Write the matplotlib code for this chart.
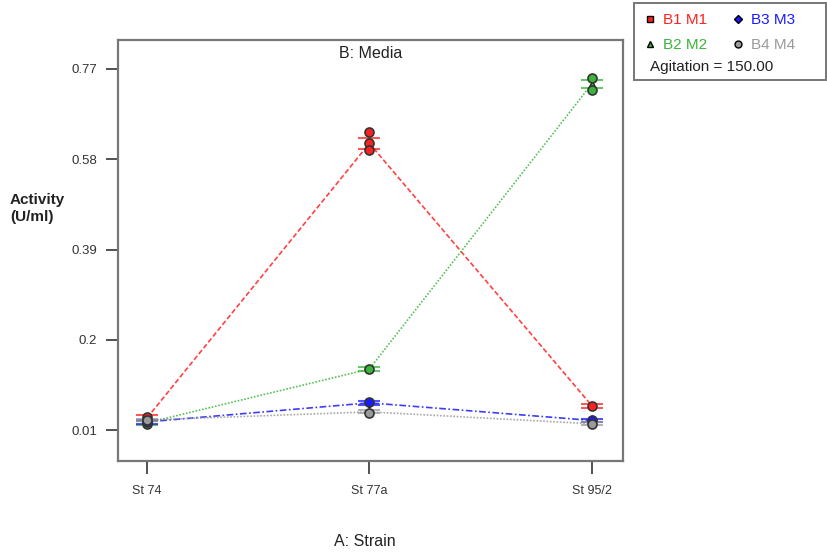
import numpy as np
import matplotlib.pyplot as plt
from matplotlib.lines import Line2D

plt.rcParams['font.family'] = ['Liberation Sans', 'DejaVu Sans']

# Interaction data: activity (U/ml) for each strain under four media
strains = ['St 74', 'St 77a', 'St 95/2']
b1_m1 = [0.036, 0.613, 0.062]
b2_m2 = [0.026, 0.139, 0.738]
b3_m3 = [0.028, 0.068, 0.031]
b4_m4 = [0.032, 0.049, 0.024]

# LSD half-widths for each mean
b1_lsd = [0.006, 0.011, 0.004]
b2_lsd = [0.004, 0.004, 0.009]
b3_lsd = [0.004, 0.004, 0.004]
b4_lsd = [0.003, 0.003, 0.003]

# Design points (replicate runs)
b1_runs_x = [0, 1, 1, 1, 2]
b1_runs_y = [0.038, 0.637, 0.613, 0.598, 0.062]
b2_runs_x = [0, 1, 2, 2]
b2_runs_y = [0.024, 0.139, 0.751, 0.726]
b3_runs_x = [0, 1, 2]
b3_runs_y = [0.028, 0.069, 0.031]
b4_runs_x = [0, 1, 2]
b4_runs_y = [0.032, 0.047, 0.023]

yticks = [0.01, 0.2, 0.39, 0.58, 0.77]
ytick_labels = ['0.01', '0.2', '0.39', '0.58', '0.77']

fig = plt.figure(figsize=(8.27, 5.56), dpi=100)
ax = fig.add_axes([0.1427, 0.171, 0.6106, 0.757])

x = np.arange(len(strains))
series = [
    (b1_m1, b1_lsd, b1_runs_x, b1_runs_y, '#ff2020', (0, (3, 1.5)), 's'),
    (b2_m2, b2_lsd, b2_runs_x, b2_runs_y, '#3cb43c', (0, (1, 1)), '^'),
    (b3_m3, b3_lsd, b3_runs_x, b3_runs_y, '#1a1aff', (0, (4, 1.5, 1, 1.5)), 'D'),
    (b4_m4, b4_lsd, b4_runs_x, b4_runs_y, '#9a9a9a', (0, (1, 1)), 'o'),
]

for means, lsd, rx, ry, col, ls, mk in series:
    ax.plot(x, means, color=col, lw=1.2, ls=ls, alpha=0.85, zorder=2)
    ax.errorbar(x, means, yerr=lsd, fmt='none', ecolor=col, elinewidth=1.2,
                capsize=8, capthick=1.5, alpha=0.75, zorder=3)
    ax.scatter(x, means, marker=mk, s=22, color=col, edgecolor='black',
               linewidth=0.8, zorder=4)
    ax.scatter(rx, ry, marker='o', s=42, color=col, edgecolor='#333333',
               linewidth=1.2, zorder=5)

ax.set_xlim(-0.13, 2.14)
ax.set_ylim(-0.054, 0.83)
ax.set_xticks(x)
ax.set_xticklabels(strains, fontsize=9)
ax.set_yticks(yticks)
ax.set_yticklabels(ytick_labels, fontsize=9.5)
ax.tick_params(axis='both', length=9, width=1.2, color='#333333', labelcolor='#333333')
ax.tick_params(axis='x', pad=8)
ax.tick_params(axis='y', pad=6)

for side in ['left', 'bottom', 'right', 'top']:
    ax.spines[side].set_color('#777777')
    ax.spines[side].set_linewidth(1.6)

ax.text(0.5, 0.985, 'B: Media', transform=ax.transAxes, ha='center', va='top',
        fontsize=11.5, color='#222222')
fig.text(0.441, 0.012, 'A: Strain', ha='center', va='bottom', fontsize=11.5,
         color='#222222')
fig.text(0.012, 0.625, 'Activity\n(U/ml)', ha='left', va='center', fontsize=11,
         fontweight='bold', color='#222222', linespacing=1.2)

# Legend box in the top right corner
handles = [
    Line2D([], [], ls='none', marker='s', color='#ff2020', mec='black', ms=5),
    Line2D([], [], ls='none', marker='^', color='#3cb43c', mec='black', ms=5),
    Line2D([], [], ls='none', marker='D', color='#1a1aff', mec='black', ms=4),
    Line2D([], [], ls='none', marker='o', color='#9a9a9a', mec='black', ms=5),
]
labels = ['B1 M1', 'B2 M2', 'B3 M3', 'B4 M4']
leg = fig.legend(handles, labels, ncol=2, loc='upper left',
                 bbox_to_anchor=(0.764, 0.998), fontsize=11, frameon=False,
                 handlelength=0.8, handletextpad=0.45, columnspacing=1.6,
                 labelspacing=0.7, borderpad=0.3)
for txt, col in zip(leg.get_texts(), ['#ff2020', '#3cb43c', '#1a1aff', '#9a9a9a']):
    txt.set_color(col)
fig.text(0.786, 0.879, 'Agitation = 150.00', fontsize=11, color='#222222',
         ha='left', va='center')
box = plt.Rectangle((0.767, 0.857), 0.232, 0.138, transform=fig.transFigure,
                    fill=False, edgecolor='#777777', linewidth=1.4)
fig.add_artist(box)

fig.savefig('out.png', dpi=100)
